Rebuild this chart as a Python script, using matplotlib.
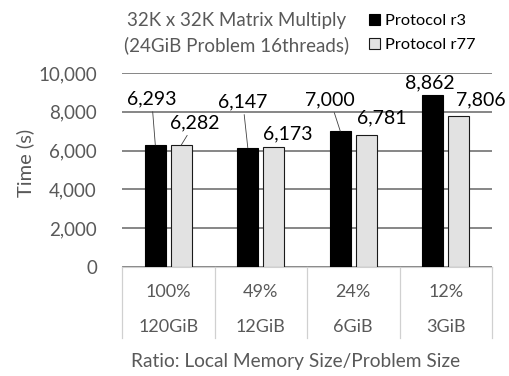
import numpy as np
from matplotlib import pyplot as plt
from matplotlib.patches import Patch
import matplotlib.transforms as mtransforms

# Data
ratios   = ['100%', '49%', '24%', '12%']
memSizes = ['120GiB', '12GiB', '6GiB', '3GiB']
r3       = [6293, 6147, 7000, 8862]
r77      = [6282, 6173, 6781, 7806]

# label offsets (points) from bar top, and whether a leader line is drawn
r3Offs   = [(-2.6, 33), (-3.6, 33), (-7.3, 22.5), (-2.5, 8.8)]
r3Lines  = [True, True, True, False]
r77Offs  = [(9.8, 16), (10.3, 9.4), (11.5, 12.5), (15.6, 11.2)]
r77Lines = [True, False, False, False]

plt.rcParams['font.family'] = ['Lato', 'DejaVu Sans']
grey = '#595959'

fig = plt.figure(figsize=(5.09, 3.76), dpi=100)
ax = fig.add_axes([122/509, 1 - 267/376, 370/509, 194/376])

x = np.arange(len(ratios))
w = 0.227
off = 0.14
b1 = ax.bar(x - off, r3, w, color='black', edgecolor='black', linewidth=0.8, zorder=3)
b2 = ax.bar(x + off, r77, w, color='#e2e2e2', edgecolor='#1a1a1a', linewidth=0.8, zorder=3)

def label(bars, vals, offs, lines):
    for bar, v, o, ln in zip(bars, vals, offs, lines):
        xc = bar.get_x() + bar.get_width()/2
        props = dict(arrowstyle='-', color='#404040', lw=0.6,
                     shrinkA=1, shrinkB=0) if ln else None
        ax.annotate('{:,}'.format(v), xy=(xc, v), xytext=o,
                    textcoords='offset points', ha='center', va='center',
                    fontsize=14, color='black', arrowprops=props,
                    annotation_clip=False)

label(b1, r3, r3Offs, r3Lines)
label(b2, r77, r77Offs, r77Lines)

ax.set_xlim(-0.5, len(ratios) - 0.5)
ax.set_ylim(0, 10000)
ax.set_yticks(np.arange(0, 10001, 2000))
ax.set_yticklabels(['{:,}'.format(v) for v in range(0, 10001, 2000)])
ax.tick_params(axis='y', length=0, pad=18, labelsize=13.5, labelcolor=grey)
ax.set_xticks([])
ax.yaxis.grid(True, color='#666666', linewidth=1.1, zorder=0)
ax.set_axisbelow(True)
for s in ['top', 'right', 'left']:
    ax.spines[s].set_visible(False)
ax.spines['bottom'].set_color('#d0d0d0')

# category table under the axis
trans = mtransforms.blended_transform_factory(ax.transData, ax.transAxes)
for xb in np.arange(-0.5, len(ratios), 1.0):
    ax.plot([xb, xb], [0, -0.366], transform=trans, color='#d0d0d0',
            lw=0.9, clip_on=False)
for i in range(len(ratios)):
    ax.text(i, -0.129, ratios[i], transform=trans, ha='center', va='center',
            fontsize=13, color=grey)
    ax.text(i, -0.309, memSizes[i], transform=trans, ha='center', va='center',
            fontsize=13, color=grey)

fig.text(25/509, 1 - 163/376, 'Time (s)', rotation=90, ha='center',
         va='center', fontsize=14.5, color=grey)
fig.text(296/509, 1 - 362/376, 'Ratio: Local Memory Size/Problem Size',
         ha='center', va='center', fontsize=13.8, color=grey)
fig.text(237/509, 1 - 33/376, '32K x 32K Matrix Multiply\n(24GiB Problem 16threads)',
         ha='center', va='center', fontsize=13.5, color=grey, linespacing=1.45)

handles = [Patch(facecolor='black', edgecolor='black', lw=0.8),
           Patch(facecolor='#e2e2e2', edgecolor='#1a1a1a', lw=0.8)]
fig.legend(handles, ['Protocol r3', 'Protocol r77'], loc='center left',
           bbox_to_anchor=(369/509, 1 - 33/376), frameon=False, fontsize=11.8,
           handlelength=0.7, handleheight=0.7, handletextpad=0.3,
           labelspacing=0.6, borderaxespad=0, borderpad=0)

plt.savefig('out.png', dpi=100)
